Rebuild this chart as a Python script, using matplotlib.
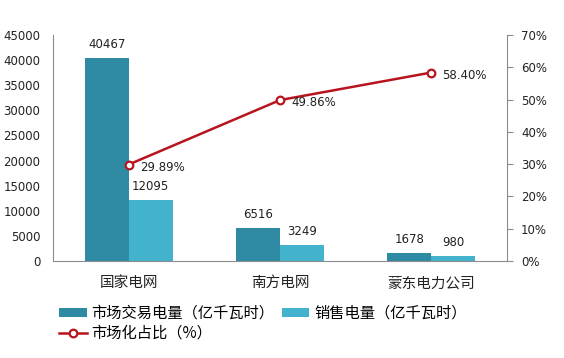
import matplotlib
matplotlib.use("Agg")
import matplotlib.pyplot as plt
import numpy as np

plt.rcParams['font.family'] = ['DejaVu Sans', 'Noto Sans CJK SC']

categories = ["国家电网", "南方电网", "蒙东电力公司"]
trade = [40467, 6516, 1678]
sales = [12095, 3249, 980]
ratio = [29.89, 49.86, 58.40]
left_ticks = [0, 5000, 10000, 15000, 20000, 25000, 30000, 35000, 40000, 45000]
right_ticks = [0, 10, 20, 30, 40, 50, 60, 70]

c_dark = "#2f8aa3"
c_light = "#42b2cd"
c_line = "#b8141e"
c_axis = "#8c8c8c"
c_text = "#222222"
cjk = ['Noto Sans CJK SC', 'DejaVu Sans']

fig = plt.figure(figsize=(5.64, 3.58), dpi=100)
ax = fig.add_axes([0.094, 0.271, 0.805, 0.631])
x = np.arange(len(categories))
w = 0.29
b1 = ax.bar(x - w / 2, trade, w, color=c_dark, label="市场交易电量（亿千瓦时）")
b2 = ax.bar(x + w / 2, sales, w, color=c_light, label="销售电量（亿千瓦时）")
ax.set_xlim(-0.5, 2.5)
ax.set_ylim(0, 45000)
ax.set_yticks(left_ticks)
ax.set_yticklabels([str(v) for v in left_ticks])
ax.set_xticks(x)
ax.set_xticklabels(categories, fontfamily=cjk, fontsize=10.5)
ax.tick_params(axis='y', length=0, labelsize=8.5, pad=9, colors=c_text)
ax.tick_params(axis='x', length=0, pad=11, colors=c_text)
for s in ["top", "right"]:
    ax.spines[s].set_visible(False)
for s in ["left", "bottom"]:
    ax.spines[s].set_color(c_axis)

for xi, v in zip(x - w / 2, trade):
    ax.annotate(str(v), (xi, v), xytext=(0, 5), textcoords="offset points",
                ha="center", va="bottom", fontsize=8.5, color=c_text)
for xi, v in zip(x + w / 2, sales):
    ax.annotate(str(v), (xi, v), xytext=(0, 5), textcoords="offset points",
                ha="center", va="bottom", fontsize=8.5, color=c_text)

ax2 = ax.twinx()
ax2.set_ylim(0, 70)
ax2.set_yticks(right_ticks)
ax2.set_yticklabels([f"{v}%" for v in right_ticks])
ax2.tick_params(axis='y', length=4, labelsize=8.5, pad=6, colors=c_axis, labelcolor=c_text)
for s in ["top", "left", "bottom"]:
    ax2.spines[s].set_visible(False)
ax2.spines["right"].set_color(c_axis)
ln, = ax2.plot(x, ratio, color=c_line, lw=1.8, marker="o", ms=5.5,
               mfc="white", mec=c_line, mew=1.6, label="市场化占比（%）")
for xi, v in zip(x, ratio):
    ax2.annotate(f"{v:.2f}%", (xi, v), xytext=(8, -2), textcoords="offset points",
                 ha="left", va="center", fontsize=8.5, color=c_text)

fig.legend([b1, ln, b2], ["市场交易电量（亿千瓦时）", "市场化占比（%）", "销售电量（亿千瓦时）"],
           ncol=2, loc="upper left", bbox_to_anchor=(0.105, 0.148), frameon=False,
           prop={'family': cjk, 'size': 11}, handlelength=1.8, handleheight=0.45,
           columnspacing=0.5, handletextpad=0.3, labelspacing=0.15, borderpad=0,
           borderaxespad=0)

fig.savefig("out.png", dpi=100)
